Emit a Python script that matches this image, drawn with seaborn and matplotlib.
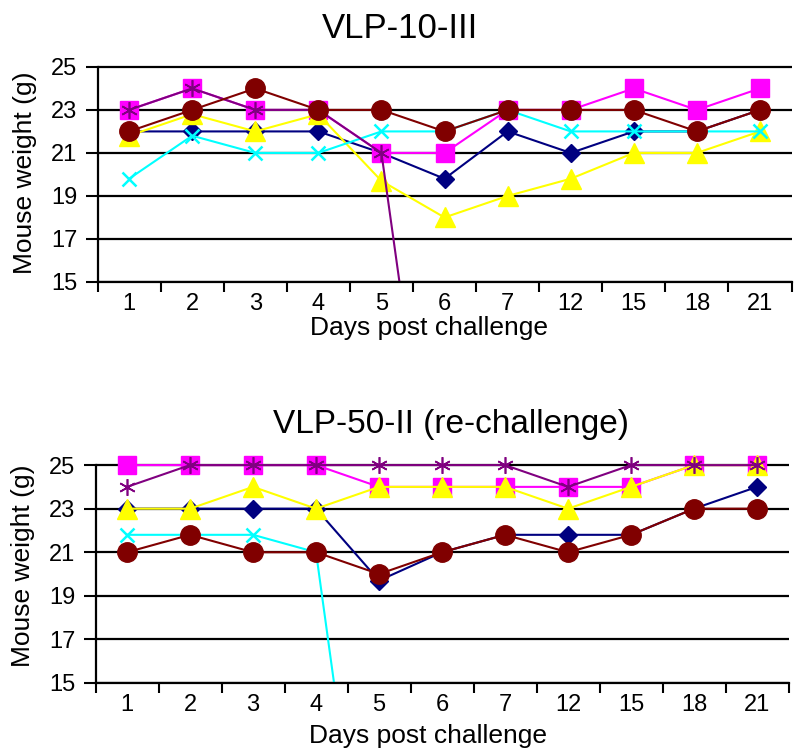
import numpy as np
import pandas as pd
import matplotlib
matplotlib.use("Agg")
import matplotlib.pyplot as plt
import seaborn as sns

# x categories (days post challenge)
days = ["1", "2", "3", "4", "5", "6", "7", "12", "15", "18", "21"]
nan = np.nan

# VLP-10-III
top_navy = [22, 22, 22, 22, 21, 19.8, 22, 21, 22, 22, 23]
top_magenta = [23, 24, 23, 23, 21, 21, 23, 23, 24, 23, 24]
top_yellow = [21.8, 22.8, 22, 22.8, 19.7, 18, 19, 19.8, 21, 21, 22]
top_cyan = [19.8, 21.8, 21, 21, 22, 22, 23, 22, 22, 22, 22]
top_purple = [23, 24, 23, 23, 21, 0, nan, nan, nan, nan, nan]
top_maroon = [22, 23, 24, 23, 23, 22, 23, 23, 23, 22, 23]

# VLP-50-II (re-challenge)
bot_navy = [23, 23, 23, 23, 19.7, 21, 21.8, 21.8, 21.8, 23, 24]
bot_magenta = [25, 25, 25, 25, 24, 24, 24, 24, 24, 25, 25]
bot_yellow = [23, 23, 24, 23, 24, 24, 24, 23, 24, 25, 25]
bot_cyan = [21.8, 21.8, 21.8, 21, 0, nan, nan, nan, nan, nan, nan]
bot_purple = [24, 25, 25, 25, 25, 25, 25, 24, 25, 25, 25]
bot_maroon = [21, 21.8, 21, 21, 20, 21, 21.8, 21, 21.8, 23, 23]

# series style: color, marker, markersize, edge width (Excel default order)
styles = [
    ("#000080", "D", 9.5, 1.0),
    ("#FF00FF", "s", 13, 1.0),
    ("#FFFF00", "^", 14, 1.0),
    ("#00FFFF", "x", 10, 1.8),
    ("#800080", (6, 2, 0), 12, 1.2),
    ("#800000", "o", 14, 1.0),
]

sns.set_style("ticks")
plt.rcParams["font.family"] = ["Liberation Sans", "DejaVu Sans"]
plt.rcParams["text.color"] = "black"
plt.rcParams["xtick.color"] = "black"
plt.rcParams["ytick.color"] = "black"
plt.rcParams["axes.labelcolor"] = "black"

fig = plt.figure(figsize=(8, 7.54), dpi=100)
ax_top = fig.add_axes([0.1219, 0.6260, 0.8675, 0.3024])
ax_bot = fig.add_axes([0.1194, 0.0942, 0.8663, 0.3063])

pos = np.arange(len(days))


def draw_panel(ax, series):
    for vals, (col, mk, ms, mew) in zip(series, styles):
        df = pd.DataFrame({"x": pos, "y": vals}).dropna()
        sns.lineplot(data=df, x="x", y="y", ax=ax, color=col, marker=mk,
                     markersize=ms, markeredgecolor=col, markeredgewidth=mew,
                     linewidth=1.5, estimator=None)
    ax.set_xlim(-0.5, len(days) - 0.5)
    ax.set_ylim(15, 25.6)
    ax.set_yticks([15, 17, 19, 21, 23, 25])
    ax.set_yticklabels(["15", "17", "19", "21", "23", "25"], fontsize=17)
    ax.yaxis.grid(True, color="black", linewidth=1.6)
    ax.xaxis.grid(False)
    ax.set_axisbelow(True)
    # category boundaries as ticks, labels at the centres
    ax.set_xticks(np.arange(-0.5, len(days), 1.0))
    ax.set_xticklabels([])
    ax.set_xticks(pos, minor=True)
    ax.set_xticklabels(days, minor=True, fontsize=17)
    ax.tick_params(axis="x", which="major", length=7, width=1.5, direction="out")
    ax.tick_params(axis="x", which="minor", length=0, pad=8)
    ax.tick_params(axis="y", length=8.5, width=1.5, direction="out", pad=6)
    ax.set_xlabel("")
    ax.set_ylabel("")
    sns.despine(ax=ax, top=True, right=True)
    ax.spines["left"].set_bounds(15, 25)
    for side in ["left", "bottom"]:
        ax.spines[side].set_linewidth(1.6)
        ax.spines[side].set_color("black")


draw_panel(ax_top, [top_navy, top_magenta, top_yellow, top_cyan, top_purple, top_maroon])
draw_panel(ax_bot, [bot_navy, bot_magenta, bot_yellow, bot_cyan, bot_purple, bot_maroon])

fig.text(0.5, 0.9496, "VLP-10-III", ha="center", va="baseline", fontsize=25)
fig.text(0.564, 0.4257, "VLP-50-II (re-challenge)", ha="center", va="baseline", fontsize=24)

fig.text(0.536, 0.5557, "Days post challenge", ha="center", va="baseline", fontsize=19)
fig.text(0.5355, 0.0146, "Days post challenge", ha="center", va="baseline", fontsize=19)

fig.text(0.031, 1 - 173 / 754, "Mouse weight (g)", rotation=90, ha="center", va="center", fontsize=19)
fig.text(0.029, 1 - 566 / 754, "Mouse weight (g)", rotation=90, ha="center", va="center", fontsize=19)

fig.savefig("out.png", dpi=100)
plt.close(fig)
